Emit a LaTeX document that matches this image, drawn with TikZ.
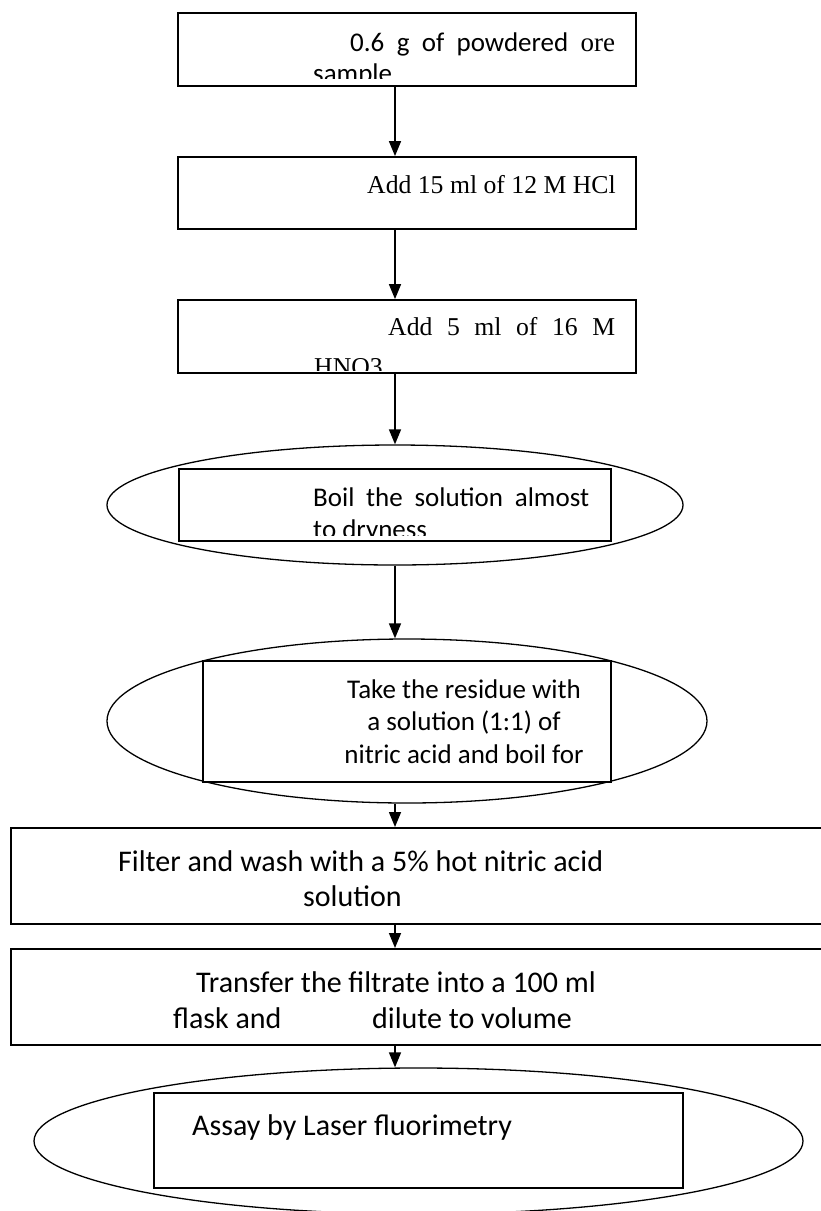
\documentclass[tikz,border=0pt]{standalone}
\usepackage{fontspec}
\setmainfont{Carlito}
\newfontfamily\tnr{Liberation Serif}
\usetikzlibrary{shapes.geometric,arrows.meta}
\begin{document}
\begin{tikzpicture}[x=1pt,y=-1pt,
  box/.style={draw,line width=1.8pt,rectangle,inner sep=0pt},
  wbox/.style={draw,line width=2pt,rectangle,inner sep=0pt},
  ell/.style={draw,line width=1.3pt,ellipse,inner sep=0pt},
  inbox/.style={draw,line width=1.6pt,rectangle,inner sep=0pt,fill=white},
  txt/.style={inner sep=0pt,anchor=base west,font=\fontsize{27}{32}\selectfont},
  ctxt/.style={inner sep=0pt,anchor=base,font=\fontsize{27}{32}\selectfont},
  ttxt/.style={inner sep=0pt,anchor=base west,font=\fontsize{25.7}{30}\selectfont\tnr},
  btxt/.style={inner sep=0pt,anchor=base west,font=\fontsize{30}{36}\selectfont},
  arr/.style={line width=1.5pt,-{Triangle[width=12pt,length=15pt]}}]
\useasboundingbox (0,0) rectangle (820,1211);
\fill[white] (0,0) rectangle (820,1211);
\coordinate (ax) at (395,0);

% boxes
\node[box,minimum width=458pt,minimum height=73pt] (b1) at (407,49.5) {};
\node[box,minimum width=458pt,minimum height=72pt] (b2) at (407,193) {};
\node[box,minimum width=458pt,minimum height=73pt] (b3) at (407,336.5) {};
\node[ell,minimum width=576pt,minimum height=120pt] (e1) at (395,505) {};
\node[inbox,minimum width=432pt,minimum height=72pt] (r1) at (395,505) {};
\node[ell,minimum width=600pt,minimum height=164pt] (e2) at (407,721) {};
\node[inbox,minimum width=408pt,minimum height=121pt] (r2) at (407,721.5) {};
\node[wbox,minimum width=830pt,minimum height=96pt] (f) at (425.5,876) {};
\node[wbox,minimum width=830pt,minimum height=96pt] (t) at (425.5,997) {};
\node[ell,minimum width=769pt,minimum height=146pt] (e3) at (418.5,1141) {};
\node[inbox,minimum width=529pt,minimum height=95pt] (r3) at (418.5,1140.5) {};

% texts
\node[txt] (t1a) at (350,51) {\makebox[265pt][s]{0.6 g of powdered {\tnr ore}}};
\begin{scope}
  \clip (178,13) rectangle (636,78);
  \node[txt] (t1b) at (313,82) {sample};
\end{scope}
\node[ttxt] (t2) at (367,193) {Add 15 ml of 12 M HCl};
\node[ttxt] (t3a) at (388,335) {\makebox[227pt][s]{Add 5 ml of 16 M}};
\begin{scope}
  \clip (178,300) rectangle (636,370);
  \node[ttxt] (t3b) at (314,375) {HNO3};
\end{scope}
\node[txt] (t4a) at (313,506) {\makebox[276pt][s]{Boil the solution almost}};
\begin{scope}
  \clip (179,469) rectangle (611,535);
  \node[txt] (t4b) at (313,538) {to dryness};
\end{scope}
\node[ctxt] (t5a) at (464,698) {Take the residue with};
\node[ctxt] (t5b) at (464,730.5) {a solution (1:1) of};
\node[ctxt] (t5c) at (464,763) {nitric acid and boil for};
\node[btxt] (t6a) at (118,871) {Filter and wash with a 5\% hot nitric acid};
\node[btxt] (t6b) at (303,906) {solution};
\node[btxt] (t7a) at (196,992) {Transfer the filtrate into a 100 ml};
\node[btxt] (t7b) at (173,1028) {flask and};
\node[btxt] (t7c) at (372,1028) {dilute to volume};
\node[btxt] (t8) at (192,1135) {Assay by Laser fluorimetry};

% arrows
\draw[arr] (b1.south -| ax) -- (b2.north -| ax);
\draw[arr] (b2.south -| ax) -- (b3.north -| ax);
\draw[arr] (b3.south -| ax) -- (e1.north);
\draw[arr] (e1.south) -- (e2.north -| ax);
\draw[arr] (e2.south -| ax) -- (f.north -| ax);
\draw[arr] (f.south -| ax) -- (t.north -| ax);
\draw[arr] (t.south -| ax) -- (e3.north -| ax);
\end{tikzpicture}
\end{document}
